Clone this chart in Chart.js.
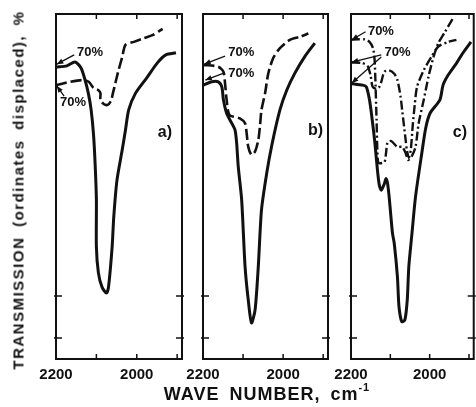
<!DOCTYPE html>
<html>
<head>
<meta charset="utf-8">
<script src="https://cdn.jsdelivr.net/npm/chart.js@4.4.0/dist/chart.umd.min.js"></script>
<style>
html, body { margin: 0; padding: 0; background: #fff; }
#wrap { position: relative; width: 476px; height: 407px; overflow: hidden; color: #111;
        font-family: 'Liberation Sans', Arial, sans-serif; font-weight: bold; }
#wrap canvas { position: absolute; left: 0; top: 0; }
.ytitle { position: absolute; left: 18px; top: 190px; transform: translate(-50%, -50%) rotate(-90deg);
          white-space: nowrap; font-size: 15px; letter-spacing: 1.5px; word-spacing: 4px; }
.xtitle { position: absolute; left: 267px; top: 394px; transform: translate(-50%, -50%);
          white-space: nowrap; font-size: 18px; letter-spacing: 1px; word-spacing: 4px; }
.xtitle sup { font-size: 11px; position: relative; top: -2px; }
</style>
</head>
<body>
<div id="wrap">
  <canvas id="pa" width="476" height="407"></canvas>
  <canvas id="pb" width="476" height="407"></canvas>
  <canvas id="pc" width="476" height="407"></canvas>
  <div class="ytitle">TRANSMISSION (ordinates displaced), %</div>
  <div class="xtitle">WAVE NUMBER, cm<sup>-1</sup></div>
</div>
<script>
// wave number ticks and the transmission ticks drawn on the frames
const xTicks = [2200, 2100, 2000, 1900];
const xLabels = ['2200', '', '2000', ''];
const yTicks = [0, 10];

// panel a)
const aSolidX = [2200, 2173, 2153, 2138, 2128, 2120, 2113, 2107, 2103, 2100, 2100, 2095, 2086, 2075, 2070, 2061, 2057, 2049, 2036, 2028, 2020, 2003, 1974, 1949, 1928, 1903];
const aSolidY = [64.5, 64.8, 65.7, 64.3, 61.4, 58.3, 54.3, 48.3, 41.2, 32.9, 21.7, 15.5, 12.1, 10.7, 12.1, 21.7, 28.8, 37.6, 44.8, 49.5, 54.3, 58.3, 62.1, 65.5, 67.4, 67.9];
const aDashX = [2200, 2165, 2136, 2119, 2107, 2095, 2090, 2090, 2082, 2072, 2064, 2059, 2053, 2045, 2036, 2028, 2007, 1982, 1961, 1936];
const aDashY = [60.2, 61.0, 61.4, 61.0, 59.5, 59.0, 58.3, 56.7, 55.7, 55.5, 56.4, 58.3, 60.7, 63.8, 66.9, 69.8, 70.5, 71.4, 72.1, 73.6];

// panel b)
const bSolidX = [2200, 2178, 2162, 2153, 2149, 2141, 2128, 2120, 2116, 2112, 2103.5, 2095, 2087, 2079, 2070, 2062, 2054, 2041, 2028, 2008, 1991, 1971, 1946, 1921];
const bSolidY = [60.2, 61.0, 61.0, 59.8, 56.7, 53.5, 51.1, 49.5, 46.4, 40.8, 32.9, 17.0, 9.0, 3.6, 6.7, 17.0, 30.5, 39.2, 46.0, 54.3, 59.0, 63.0, 67.0, 70.2];
const bDashX = [2199, 2162, 2149, 2145, 2141, 2134, 2108, 2095, 2091, 2087, 2079, 2070, 2062, 2058, 2054, 2045, 2037, 2025, 2008, 1983, 1958, 1937];
const bDashY = [65.0, 64.6, 63.4, 60.6, 56.7, 53.1, 52.3, 51.1, 48.7, 45.5, 43.6, 44.4, 47.1, 50.3, 54.3, 58.3, 63.0, 66.6, 69.0, 71.0, 71.7, 72.5];

// panel c)
const cSolidX = [2200, 2170, 2161, 2153, 2146, 2140, 2136, 2132, 2128, 2123, 2115, 2111, 2107, 2103, 2098.5, 2094.5, 2090, 2082, 2078, 2071, 2063, 2057, 2053, 2045, 2036, 2020, 2010, 1999, 1974, 1966, 1953, 1932, 1916, 1895];
const cSolidY = [60.6, 60.2, 59.8, 56.7, 51.9, 47.1, 43.2, 39.3, 36.4, 35.2, 36.8, 38.0, 36.8, 33.6, 28.9, 24.9, 22.5, 14.6, 7.5, 3.9, 4.3, 9.0, 17.0, 24.9, 33.6, 44.0, 50.0, 53.5, 56.7, 60.2, 62.6, 65.4, 67.8, 70.5];
const cTopX = [2200, 2182, 2165, 2153, 2144, 2140, 2138, 2135, 2133, 2130, 2115, 2111, 2107, 2098, 2082, 2070, 2061, 2055, 2046, 2036, 2028, 2015, 2003, 1990, 1978, 1961, 1941];
const cTopY = [71.0, 71.1, 71.1, 70.5, 69.0, 66.2, 61.4, 51.9, 44.8, 41.7, 41.9, 44.0, 46.6, 46.9, 45.5, 45.5, 44.0, 42.4, 43.2, 45.5, 51.1, 56.7, 62.2, 67.0, 70.2, 72.9, 76.1];
const cHumpX = [2200, 2173, 2158, 2150, 2145, 2135, 2128, 2123, 2115, 2103, 2090, 2082, 2074, 2070, 2065, 2061, 2058, 2053, 2048, 2043, 2038, 2032, 2015, 1995, 1978, 1953, 1932];
const cHumpY = [65.6, 65.5, 64.8, 62.4, 59.8, 59.3, 59.8, 61.0, 63.4, 63.7, 62.9, 61.4, 57.5, 54.3, 50.3, 47.1, 44.8, 42.9, 44.8, 50.7, 55.5, 59.8, 63.8, 67.0, 69.4, 70.5, 71.0];

function pts(xs, ys) {
    return xs.map((x, i) => ({ x: x, y: ys[i] }));
}

const solid = [];
const dashed = [11, 4];
const dashDot = [9, 3, 2, 3];

function line(xs, ys, dash, width) {
    return {
        data: pts(xs, ys),
        borderColor: '#111',
        borderWidth: width,
        borderDash: dash,
        pointRadius: 0,
        tension: 0.25,
        fill: false
    };
}

// frame, inward ticks and the small notes of each panel
const framePlugin = {
    id: 'frame',
    afterDraw(chart, args, opts) {
        const ctx = chart.ctx;
        const a = chart.chartArea;
        const xs = chart.scales.x;
        const ys = chart.scales.y;
        ctx.save();
        ctx.strokeStyle = '#111';
        ctx.lineWidth = 2;
        ctx.strokeRect(a.left, a.top, a.right - a.left, a.bottom - a.top);

        ctx.lineWidth = 1.5;
        ctx.beginPath();
        xs.ticks.forEach(t => {
            const px = xs.getPixelForValue(t.value);
            if (Math.abs(px - a.left) < 2) return;
            ctx.moveTo(px, a.bottom + 1);
            ctx.lineTo(px, a.bottom - 5);
            ctx.moveTo(px, a.top - 1);
            ctx.lineTo(px, a.top + 5);
        });
        yTicks.forEach(v => {
            const py = ys.getPixelForValue(v);
            ctx.moveTo(a.left - 2, py);
            ctx.lineTo(a.left + 6, py);
            ctx.moveTo(a.right + 2, py);
            ctx.lineTo(a.right - 6, py);
        });
        ctx.stroke();

        ctx.fillStyle = '#111';
        ctx.textBaseline = 'middle';
        ctx.textAlign = 'left';
        (opts.notes || []).forEach(n => {
            ctx.font = 'bold ' + n.size + 'px "Liberation Sans"';
            ctx.fillText(n.text, xs.getPixelForValue(n.x), ys.getPixelForValue(n.y));
            (n.arrows || []).forEach(ar => {
                const x0 = xs.getPixelForValue(ar[0]), y0 = ys.getPixelForValue(ar[1]);
                const x1 = xs.getPixelForValue(ar[2]), y1 = ys.getPixelForValue(ar[3]);
                ctx.lineWidth = 1.3;
                ctx.beginPath();
                ctx.moveTo(x0, y0);
                ctx.lineTo(x1, y1);
                ctx.stroke();
                const ang = Math.atan2(y1 - y0, x1 - x0);
                ctx.beginPath();
                ctx.moveTo(x1, y1);
                ctx.lineTo(x1 - 7 * Math.cos(ang - 0.4), y1 - 7 * Math.sin(ang - 0.4));
                ctx.lineTo(x1 - 7 * Math.cos(ang + 0.4), y1 - 7 * Math.sin(ang + 0.4));
                ctx.closePath();
                ctx.fill();
            });
        });
        ctx.restore();
    }
};

function makePanel(id, left, right, datasets, notes) {
    return new Chart(document.getElementById(id), {
        type: 'line',
        data: { datasets: datasets },
        options: {
            responsive: false,
            animation: false,
            layout: { padding: { left: left, right: 476 - right, top: 14, bottom: 24 } },
            plugins: {
                legend: { display: false },
                tooltip: { enabled: false },
                frame: { notes: notes }
            },
            scales: {
                x: {
                    type: 'linear',
                    reverse: true,
                    min: 1888,
                    max: 2200,
                    grid: { display: false, drawTicks: false },
                    border: { display: false },
                    afterBuildTicks: s => { s.ticks = xTicks.map(v => ({ value: v })); },
                    afterFit: s => { s.height = 24; },
                    ticks: {
                        autoSkip: false,
                        maxRotation: 0,
                        padding: 7,
                        color: '#111',
                        font: { family: 'Liberation Sans', size: 15, weight: 'bold' },
                        callback: (v, i) => xLabels[i]
                    }
                },
                y: { display: false, min: -5, max: 77.14 }
            }
        },
        plugins: [framePlugin]
    });
}

makePanel('pa', 56, 182, [
    line(aSolidX, aSolidY, solid, 3),
    line(aDashX, aDashY, dashed, 2.6)
], [
    { text: '70%', size: 13, x: 2148, y: 68.1, arrows: [[2155, 67.4, 2198, 65.2]] },
    { text: '70%', size: 13, x: 2190, y: 56.0, arrows: [[2180, 57.6, 2198, 60.0]] },
    { text: 'a)', size: 16, x: 1948, y: 48.8 }
]);

makePanel('pb', 203, 328, [
    line(bSolidX, bSolidY, solid, 3),
    line(bDashX, bDashY, dashed, 2.6)
], [
    { text: '70%', size: 13, x: 2137, y: 68.1, arrows: [[2145, 67.1, 2197, 65.2]] },
    { text: '70%', size: 13, x: 2137, y: 63.1, arrows: [[2145, 63.2, 2194, 61.4]] },
    { text: 'b)', size: 16, x: 1938, y: 49.3 }
]);

makePanel('pc', 351, 476, [
    line(cSolidX, cSolidY, solid, 3),
    line(cTopX, cTopY, dashDot, 2.4),
    line(cHumpX, cHumpY, dashDot, 2.4)
], [
    { text: '70%', size: 13, x: 2157, y: 73.1, arrows: [[2163, 72.9, 2198, 71.0]] },
    { text: '70%', size: 13, x: 2115, y: 68.1, arrows: [[2123, 67.4, 2198, 65.7], [2123, 66.9, 2198, 60.7]] },
    { text: 'c)', size: 16, x: 1941, y: 48.9 }
]);
</script>
</body>
</html>
